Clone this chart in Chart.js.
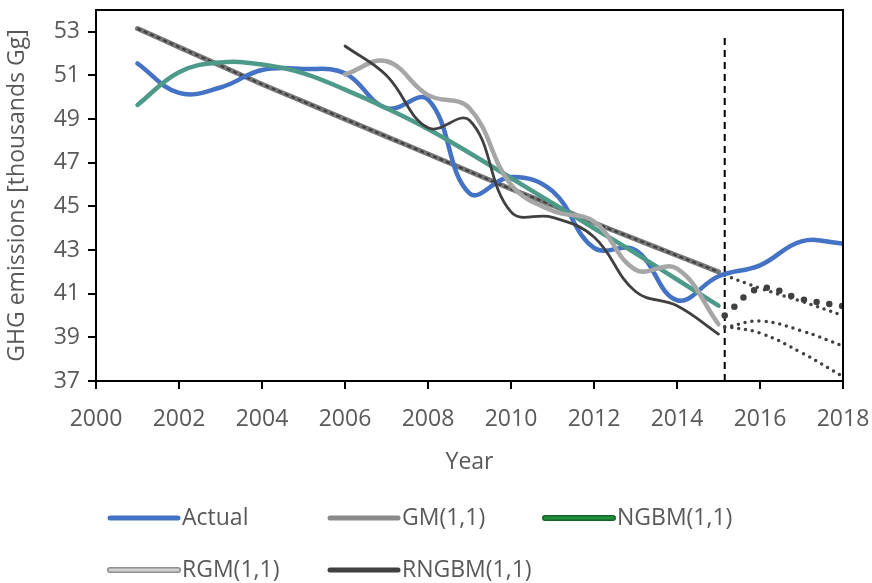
<!DOCTYPE html>
<html><head><meta charset="utf-8">
<script src="https://cdn.jsdelivr.net/npm/chart.js@4.4.1/dist/chart.umd.min.js"></script>
<style>html,body{margin:0;padding:0;background:#fff}</style>
</head><body>
<canvas id="c" width="872" height="583"></canvas>
<script>
// ---- data ----
const years = [2001,2002,2003,2004,2005,2006,2007,2008,2009,2010,2011,2012,2013,2014,2015,2016,2017,2018];
const actual = [51.55,50.2,50.45,51.25,51.3,51.1,49.5,49.9,45.6,46.35,45.7,43.1,43.0,40.7,41.8,42.3,43.4,43.3];
const modelYears = [2001,2002,2003,2004,2005,2006,2007,2008,2009,2010,2011,2012,2013,2014,2015];
const gm = [53.15,52.3,51.45,50.6,49.8,49.0,48.2,47.4,46.6,45.8,45.05,44.25,43.5,42.75,42.0];
const ngbm = [49.65,51.15,51.6,51.5,51.1,50.35,49.5,48.55,47.45,46.3,45.15,44.0,42.85,41.65,40.45];
const rollingYears = [2006,2007,2008,2009,2010,2011,2012,2013,2014,2015];
const rgm = [51.05,51.65,50.1,49.5,46.0,44.8,44.3,42.1,42.15,39.6];
const rngbm = [52.35,51.0,48.6,48.95,44.75,44.5,43.6,41.1,40.45,39.15];
const forecastYears = [2015.15,2016,2017,2018];
const forecastA = [41.85,41.25,40.65,40.0];
const forecastB = [40.0,41.25,40.75,40.43];
const forecastC = [39.45,39.75,39.3,38.6];
const forecastD = [39.5,39.2,38.3,37.2];
const splitYear = 2015.15;
const splitRange = [37,52.8];
const xTicks = [2000,2002,2004,2006,2008,2010,2012,2014,2016,2018];
const yTicks = [37,39,41,43,45,47,49,51,53];
const legendLabels = ['Actual','GM(1,1)','NGBM(1,1)','RGM(1,1)','RNGBM(1,1)'];

const pts = (xs, ys) => ys.map((v, i) => ({x: xs[i], y: v}));
const FONT = "'Open Sans', sans-serif";
const TXT = '#595959';

const frame = {
  id: 'frame',
  afterDraw(chart) {
    const {ctx, chartArea: a} = chart;
    ctx.save();
    ctx.strokeStyle = '#000'; ctx.lineWidth = 2;
    ctx.strokeRect(a.left, a.top, a.right - a.left, a.bottom - a.top);
    // legend
    const cols = [110, 330, 545];
    const rows = [518, 570];
    const items = [
      {c: '#4472C4'}, {c: '#8a8a8a'}, {c: '#1f8f3a', edge: '#17642a'},
      {c: '#d0d0d0', edge: '#8f8f8f'}, {c: '#404040'}
    ];
    ctx.font = '23px ' + FONT;
    ctx.textBaseline = 'middle';
    ctx.fillStyle = TXT;
    legendLabels.forEach((lab, i) => {
      const x = cols[i % 3], y = rows[Math.floor(i / 3)];
      ctx.lineCap = 'round';
      if (items[i].edge) {
        ctx.strokeStyle = items[i].edge; ctx.lineWidth = 6;
        ctx.beginPath(); ctx.moveTo(x, y); ctx.lineTo(x + 68, y); ctx.stroke();
        ctx.strokeStyle = items[i].c; ctx.lineWidth = 3;
        ctx.beginPath(); ctx.moveTo(x, y); ctx.lineTo(x + 68, y); ctx.stroke();
      } else {
        ctx.strokeStyle = items[i].c; ctx.lineWidth = 5;
        ctx.beginPath(); ctx.moveTo(x, y); ctx.lineTo(x + 68, y); ctx.stroke();
      }
      ctx.fillText(lab, x + 72, y);
    });
    ctx.restore();
  }
};

const line = (data, color, width, extra) => Object.assign({
  data, borderColor: color, borderWidth: width, pointRadius: 0,
  tension: 0.4, fill: false, borderCapStyle: 'round', borderJoinStyle: 'round'
}, extra || {});

new Chart(document.getElementById('c'), {
  type: 'line',
  data: {
    datasets: [
      line(pts(rollingYears, rngbm), '#404040', 2.8),
      line(pts(rollingYears, rgm), '#a6a6a6', 4.5),
      line(pts(modelYears, ngbm), '#4e9a88', 4.5),
      line(pts(years, actual), '#4472C4', 4.5),
      line(pts(modelYears, gm), '#3f3f3f', 2.2, {borderDash: [4, 3], borderCapStyle: 'butt', tension: 0.2}),
      line(pts(modelYears, gm), '#787878', 5, {tension: 0.2}),
      line(pts(forecastYears, forecastA), '#404040', 3.5, {borderDash: [0, 7]}),
      line(pts(forecastYears, forecastB), '#404040', 6.5, {borderDash: [0, 13]}),
      line(pts(forecastYears, forecastC), '#404040', 3.5, {borderDash: [0, 7]}),
      line(pts(forecastYears, forecastD), '#404040', 3.5, {borderDash: [0, 7]}),
      line(splitRange.map(v => ({x: splitYear, y: v})), '#000', 2, {borderDash: [7, 5], borderCapStyle: 'butt', tension: 0})
    ]
  },
  options: {
    responsive: false,
    animation: false,
    layout: {padding: {top: 10, right: 29, left: 0, bottom: 107}},
    plugins: {legend: {display: false}, tooltip: {enabled: false}},
    scales: {
      x: {
        type: 'linear', min: 2000, max: 2018,
        afterBuildTicks: s => { s.ticks = xTicks.map(v => ({value: v})); },
        afterFit: s => { s.height = 95; s.paddingLeft = 0; s.paddingRight = 0; },
        grid: {drawOnChartArea: false, drawTicks: true, tickLength: 8, color: '#000', lineWidth: 2},
        border: {color: '#000', width: 2},
        ticks: {color: TXT, font: {family: FONT, size: 23}, padding: 17, maxRotation: 0, callback: v => String(v)},
        title: {display: true, text: 'Year', color: TXT, font: {family: FONT, size: 23}, padding: {top: 0, bottom: 0}}
      },
      y: {
        type: 'linear', min: 37, max: 54,
        afterBuildTicks: s => { s.ticks = yTicks.map(v => ({value: v})); },
        afterFit: s => { s.width = 96; s.paddingTop = 0; s.paddingBottom = 0; },
        grid: {drawOnChartArea: false, drawTicks: true, tickLength: 8, color: '#000', lineWidth: 2},
        border: {color: '#000', width: 2},
        ticks: {color: TXT, font: {family: FONT, size: 23}, padding: 8},
        title: {display: true, text: 'GHG emissions [thousands Gg]', color: TXT, font: {family: FONT, size: 23}, padding: {top: 4, bottom: 0}}
      }
    }
  },
  plugins: [frame]
});
</script>
</body></html>
